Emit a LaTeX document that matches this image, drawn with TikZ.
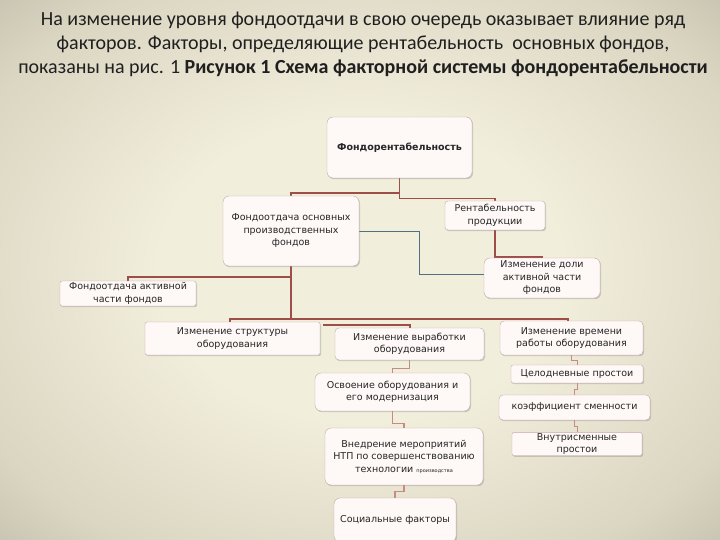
\documentclass[tikz,border=0pt]{standalone}
\usepackage{fontspec}
\setmainfont{Carlito}
\newfontfamily\boxfont{DejaVu Sans}
\usetikzlibrary{shadows}
\definecolor{bgin}{RGB}{242,238,220}
\definecolor{bgmid}{RGB}{218,214,194}
\definecolor{bgedge}{RGB}{162,160,143}
\definecolor{bgout}{RGB}{128,127,112}
\definecolor{linkred}{RGB}{158,78,72}
\definecolor{linkpale}{RGB}{196,140,130}
\definecolor{linkblue}{RGB}{82,112,130}
\definecolor{boxfill}{RGB}{254,248,247}
\definecolor{boxline}{RGB}{196,168,166}
\pgfdeclareradialshading{bgshade}{\pgfpoint{0bp}{0bp}}{color(0bp)=(bgin); color(14bp)=(bgin); color(30bp)=(bgmid); color(48bp)=(bgedge); color(71bp)=(bgout)}
\begin{document}
\begin{tikzpicture}[x=1pt,y=-1pt,
		box/.style={draw=boxline,fill=boxfill,rounded corners=6pt,align=center,inner sep=1pt,
			font=\boxfont\fontsize{9.5}{12.5}\selectfont,text=black!85,
			drop shadow={shadow xshift=1pt,shadow yshift=-1.2pt,opacity=0.35}},
		flatbox/.style={box,rounded corners=2pt},
		link/.style={draw=linkred,line width=1.8pt},
		palelink/.style={draw=linkpale,line width=1.4pt},
		bluelink/.style={draw=linkblue,line width=0.8pt}]
		\useasboundingbox (0,0) rectangle (720,540);
		\shade[shading=bgshade] (0,0) rectangle (720,540);
		\node[align=center,text=black!88,font=\fontsize{20}{24}\selectfont] (title) at (363,44)
			{На изменение уровня фондоотдачи в свою очередь оказывает влияние ряд\\
			факторов. Факторы, определяющие рентабельность \ основных фондов,\\
			показаны на рис. 1 \textbf{Рисунок 1 Схема факторной системы фондорентабельности}};
		\coordinate (frs) at (399.5,178);
		\coordinate (fos) at (291,266);
		\coordinate (rps) at (495,230);
		\coordinate (fon) at (291,196);
		\coordinate (rpn) at (495,201);
		\draw[link] (frs) -- ++(0,15) -| (fon);
		\draw[link] (frs) -- ++(0,20.5) -| (rpn);
		\draw[link] (rps) -- ++(0,27) -| (542,258);
		\draw[bluelink] (359,231) -| (419,274) -- (484,274);
		\draw[link] (fos) -- ++(0,11) -| (128,281);
		\draw[link] (fos) -- ++(0,53) -| (230,322);
		\draw[link] (fos) -- ++(0,53) -| (568,321);
		\draw[link] (323,325) -| (410,328);
		\node[box,minimum width=145pt,minimum height=61pt,font=\boxfont\bfseries\fontsize{9.5}{12.5}\selectfont] (fr) at (399.5,147.5) {Фондорентабельность};
		\node[box,minimum width=136pt,minimum height=70pt] (fo) at (291,231) {Фондоотдача основных\\производственных\\фондов};
		\node[box,rounded corners=3pt,minimum width=100pt,minimum height=29pt] (rp) at (495,215.5) {Рентабельность\\продукции};
		\node[box,minimum width=116pt,minimum height=40pt] (idol) at (542,278) {Изменение доли\\активной части\\фондов};
		\node[flatbox,minimum width=136pt,minimum height=25pt] (foa) at (128,293.5) {Фондоотдача активной\\части фондов};
		\node[flatbox,minimum width=175pt,minimum height=33pt] (istr) at (232.5,338.5) {Изменение структуры\\оборудования};
		\node[box,rounded corners=4pt,minimum width=149pt,minimum height=32pt] (ivyr) at (409.5,344) {Изменение выработки\\оборудования};
		\node[box,rounded corners=4pt,minimum width=143pt,minimum height=34pt] (ivr) at (571.5,338) {Изменение времени\\работы оборудования};
		\node[flatbox,minimum width=132pt,minimum height=18pt] (cel) at (577,374) {Целодневные простои};
		\node[box,rounded corners=4pt,minimum width=151pt,minimum height=25pt] (ksm) at (574.5,407.5) {коэффициент сменности};
		\node[box,minimum width=155pt,minimum height=38pt] (osv) at (392.5,392) {Освоение оборудования и\\его модернизация};
		\node[box,minimum width=158pt,minimum height=57pt] (vned) at (404,456.5) {Внедрение мероприятий\\НТП по совершенствованию\\технологии {\fontsize{5}{6}\selectfont производства}};
		\node[flatbox,minimum width=130pt,minimum height=22pt] (vnut) at (577,444) {Внутрисменные\\простои};
		\node[box,minimum width=122pt,minimum height=44pt] (soc) at (395,520) {Социальные факторы};
		\draw[palelink] (ivyr.south) -- ++(0,8) -| (osv.north);
		\draw[palelink] (osv.south) -- ++(0,12) -| (vned.north);
		\draw[palelink] (vned.south) -- ++(0,6) -| (soc.north);
		\draw[palelink,line width=0.8pt] (ivr.south) -- ++(0,5) -| (cel.north);
		\draw[palelink,line width=0.8pt] (cel.south) -- ++(0,6) -| (ksm.north);
		\draw[palelink,line width=0.8pt] (ksm.south) -- ++(0,6) -| (vnut.north);
	\end{tikzpicture}
\end{document}
